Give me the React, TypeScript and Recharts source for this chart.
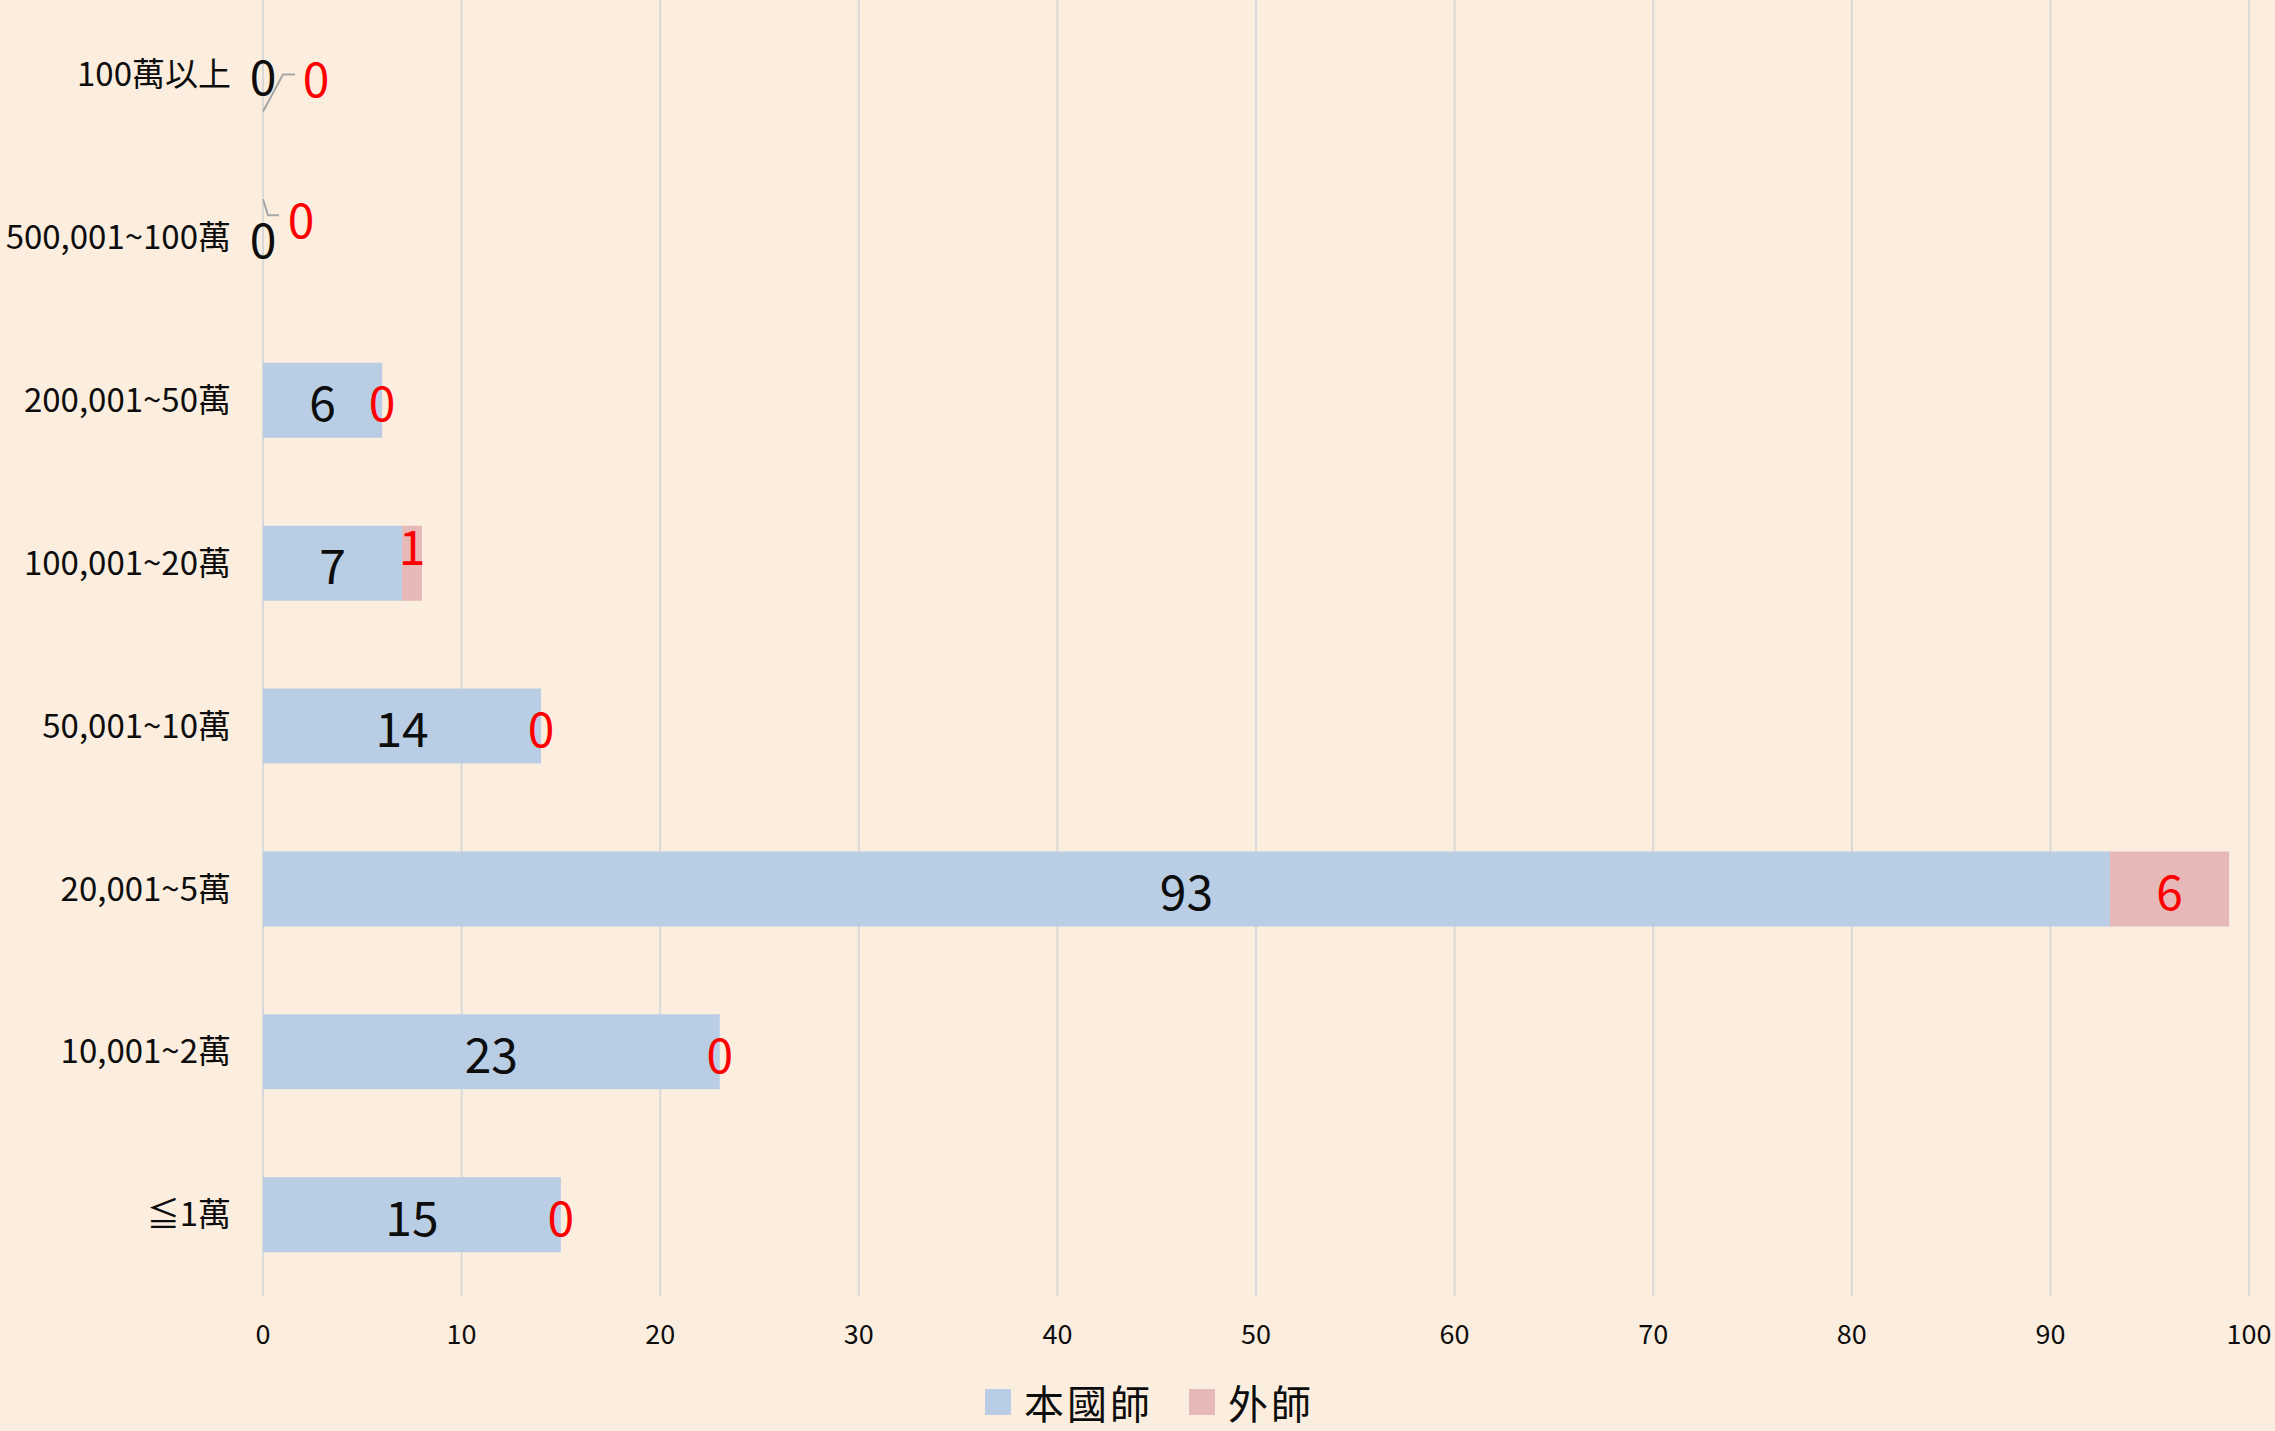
import React from "react";
import {
  ComposedChart,
  Bar,
  Scatter,
  XAxis,
  YAxis,
  CartesianGrid,
  Legend,
} from "recharts";

// 年收入級距（由上而下）
const categories = [
  "100萬以上",
  "500,001~100萬",
  "200,001~50萬",
  "100,001~20萬",
  "50,001~10萬",
  "20,001~5萬",
  "10,001~2萬",
  "≦1萬",
];
const localTeachers = [0, 0, 6, 7, 14, 93, 23, 15];
const foreignTeachers = [0, 0, 0, 1, 0, 6, 0, 0];
const xTicks = [0, 10, 20, 30, 40, 50, 60, 70, 80, 90, 100];

const BLUE = "#B9CDE5";
const PINK = "#E6B9B8";
const BG = "#FCEEDE";
const FONT = '"Noto Sans CJK TC", "Noto Sans", sans-serif';

// label anchors sit in the middle of each stacked segment (zero values included)
const data = categories.map((name, i) => ({
  name,
  local: localTeachers[i],
  foreign: foreignTeachers[i],
  localMid: localTeachers[i] / 2,
  foreignMid: localTeachers[i] + foreignTeachers[i] / 2,
}));

// callouts for the labels Excel pushed aside
const foreignCallout: Record<string, { dx: number; dy: number; line?: number[][] }> = {
  "100萬以上": { dx: 53, dy: 2, line: [[0, 37], [20, 0], [32, 0]] },
  "500,001~100萬": { dx: 38, dy: -20, line: [[0, -38], [5, -22], [16, -22]] },
  "100,001~20萬": { dx: 0, dy: -19 },
};

const LocalLabel = (props: any) => {
  const { cx, cy, payload } = props;
  return (
    <text
      x={cx}
      y={cy}
      textAnchor="middle"
      dominantBaseline="central"
      fontSize={48}
      fontFamily={FONT}
      fill="#0D0D0D"
    >
      {payload.local}
    </text>
  );
};

const ForeignLabel = (props: any) => {
  const { cx, cy, payload } = props;
  const c = foreignCallout[payload.name];
  const dx = c ? c.dx : 0;
  const dy = c ? c.dy : 0;
  return (
    <g>
      {c && c.line && (
        <polyline
          points={c.line.map((p) => `${cx + p[0]},${cy + p[1]}`).join(" ")}
          fill="none"
          stroke="#A6A6A6"
          strokeWidth={2}
        />
      )}
      <text
        x={cx + dx}
        y={cy + dy}
        textAnchor="middle"
        dominantBaseline="central"
        fontSize={48}
        fontFamily={FONT}
        fill="#FF0000"
      >
        {payload.foreign}
      </text>
    </g>
  );
};

const LegendContent = () => (
  <div
    style={{
      height: 75,
      boxSizing: "border-box",
      paddingTop: 16,
      paddingLeft: 50,
      display: "flex",
      justifyContent: "center",
      alignItems: "center",
      fontFamily: FONT,
      fontSize: 40,
      lineHeight: "50px",
      color: "#0D0D0D",
    }}
  >
    {[
      { label: "本國師", color: BLUE },
      { label: "外師", color: PINK },
    ].map((item, i) => (
      <div
        key={item.label}
        style={{ display: "flex", alignItems: "center", marginLeft: i ? 36 : 0 }}
      >
        <span
          style={{
            display: "inline-block",
            width: 26,
            height: 26,
            background: item.color,
            marginRight: 13,
          }}
        />
        <span style={{ letterSpacing: 3 }}>{item.label}</span>
      </div>
    ))}
  </div>
);

export default function App() {
  return (
    <div
      style={{
        position: "fixed",
        left: 0,
        top: 0,
        width: 2275,
        height: 1431,
        background: BG,
        overflow: "hidden",
      }}
    >
      <ComposedChart
        width={2275}
        height={1431}
        data={data}
        layout="vertical"
        margin={{ top: -7, right: 26, bottom: 0, left: 0 }}
        barSize={75}
      >
        <CartesianGrid
          horizontal={false}
          vertical={true}
          stroke="#D9D9D9"
          strokeWidth={2}
        />
        <XAxis
          type="number"
          domain={[0, 100]}
          ticks={xTicks}
          axisLine={false}
          tickLine={false}
          tickMargin={23}
          height={60}
          tick={{ fontSize: 27, fill: "#0D0D0D", fontFamily: FONT }}
          interval={0}
        />
        <YAxis
          type="category"
          dataKey="name"
          width={263}
          axisLine={false}
          tickLine={false}
          tickMargin={26}
          tick={{ fontSize: 33, fill: "#0D0D0D", fontFamily: FONT }}
          interval={0}
        />
        <Legend verticalAlign="bottom" content={<LegendContent />} />
        <Bar dataKey="local" stackId="s" fill={BLUE} isAnimationActive={false} />
        <Bar dataKey="foreign" stackId="s" fill={PINK} isAnimationActive={false} />
        <Scatter dataKey="localMid" shape={LocalLabel} isAnimationActive={false} />
        <Scatter dataKey="foreignMid" shape={ForeignLabel} isAnimationActive={false} />
      </ComposedChart>
    </div>
  );
}
